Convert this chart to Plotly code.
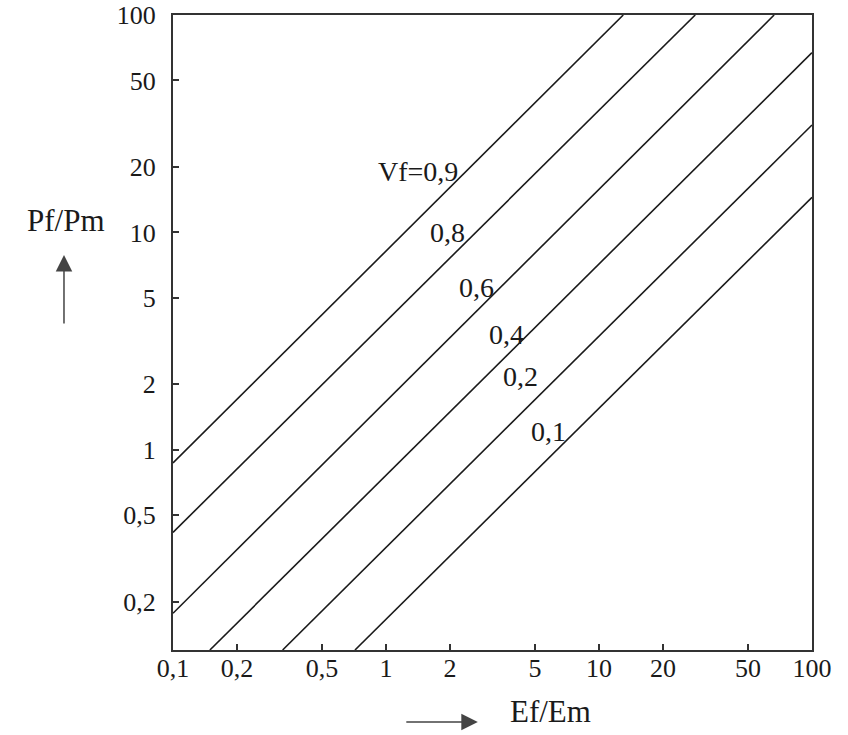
import numpy as np
import plotly.graph_objects as go

# Data (two end points per straight line on log-log axes)
vf_labels = ["Vf=0,9", "0,8", "0,6", "0,4", "0,2", "0,1"]
line_x = [[0.1, 13.0], [0.1, 28.3], [0.1, 66.4], [0.149, 100], [0.327, 100], [0.715, 100]]
line_y = [[0.87, 100], [0.417, 100], [0.177, 100], [0.12, 67.1], [0.12, 31.2], [0.12, 14.5]]
label_x = [1.41, 1.95, 2.67, 3.66, 4.30, 5.82]
label_y = [19.0, 10.0, 5.56, 3.38, 2.17, 1.22]

x_ticks = [0.1, 0.2, 0.5, 1, 2, 5, 10, 20, 50, 100]
x_ticktext = ["0,1", "0,2", "0,5", "1", "2", "5", "10", "20", "50", "100"]
y_ticks = [0.2, 0.5, 1, 2, 5, 10, 20, 50, 100]
y_ticktext = ["0,2", "0,5", "1", "2", "5", "10", "20", "50", "100"]
x_range = [0.1, 100]
y_range = [0.12, 100]

FONT = "Liberation Serif, Times New Roman, serif"
INK = "#1a1a1a"

fig = go.Figure()
for xs, ys, name in zip(line_x, line_y, vf_labels):
    fig.add_trace(go.Scatter(x=xs, y=ys, mode="lines", name=name,
                             line=dict(color=INK, width=1.6), showlegend=False,
                             hoverinfo="skip"))

annotations = []
for t, lx, ly in zip(vf_labels, label_x, label_y):
    annotations.append(dict(x=np.log10(lx), y=np.log10(ly), xref="x", yref="y",
                            text=t, showarrow=False, xanchor="center", yanchor="middle",
                            font=dict(family=FONT, size=28, color=INK)))

# axis titles
annotations.append(dict(x=-0.1675, y=0.677, xref="paper", yref="paper", text="Pf/Pm",
                        showarrow=False, xanchor="center", yanchor="middle",
                        font=dict(family=FONT, size=31, color=INK)))
annotations.append(dict(x=0.59, y=-0.0976, xref="paper", yref="paper", text="Ef/Em",
                        showarrow=False, xanchor="center", yanchor="middle",
                        font=dict(family=FONT, size=31, color=INK)))
# arrows
annotations.append(dict(x=-0.1706, y=0.622, xref="paper", yref="paper", text="",
                        showarrow=True, ax=0, ay=70, arrowhead=2, arrowsize=2.2,
                        arrowwidth=1.5, arrowcolor="#444"))
annotations.append(dict(x=0.477, y=-0.1134, xref="paper", yref="paper", text="",
                        showarrow=True, ax=-73, ay=0, arrowhead=2, arrowsize=2.2,
                        arrowwidth=1.5, arrowcolor="#444"))

axis_common = dict(type="log", showgrid=False, zeroline=False, showline=True,
                   linecolor="#333", linewidth=2, mirror=True, ticks="inside",
                   ticklen=6, tickwidth=1.5, tickcolor="#333", automargin=False,
                   tickfont=dict(family=FONT, size=26, color=INK))

fig.update_layout(
    width=848, height=735,
    margin=dict(l=173, r=36, t=15, b=85),
    paper_bgcolor="white", plot_bgcolor="white",
    xaxis=dict(range=[np.log10(x_range[0]), np.log10(x_range[1])],
               tickvals=x_ticks, ticktext=x_ticktext, ticklabelstandoff=-6, **axis_common),
    yaxis=dict(range=[np.log10(y_range[0]), np.log10(y_range[1])],
               tickvals=y_ticks, ticktext=y_ticktext, ticklabelstandoff=10, **axis_common),
    annotations=annotations,
)

fig.write_html("out.html")
